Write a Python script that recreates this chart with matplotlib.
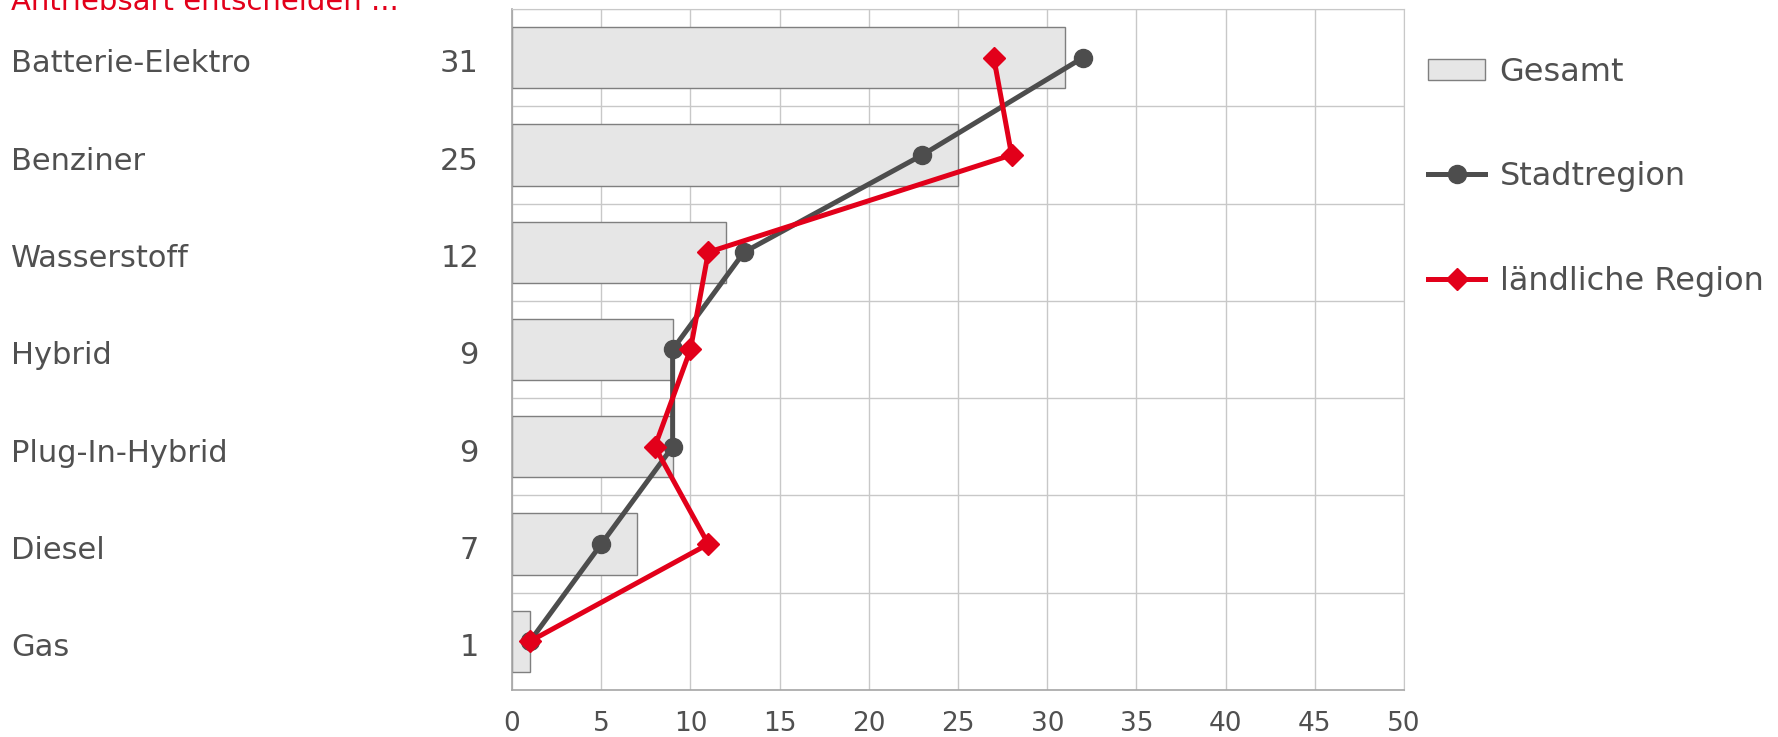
import matplotlib
matplotlib.use("Agg")
import matplotlib.pyplot as plt
import matplotlib.transforms as mtransforms
import numpy as np

# Antriebsarten (oben nach unten) und Anteile in Prozent
categories = ["Batterie-Elektro", "Benziner", "Wasserstoff", "Hybrid",
              "Plug-In-Hybrid", "Diesel", "Gas"]
gesamt = [31, 25, 12, 9, 9, 7, 1]
stadtregion = [32, 23, 13, 9, 9, 5, 1]
laendlich = [27, 28, 11, 10, 8, 11, 1]
xticks = [0, 5, 10, 15, 20, 25, 30, 35, 40, 45, 50]

TEXT = "#505050"
RED = "#E2001A"
DARK = "#4D4D4D"
GRID = "#C8C8C8"

plt.rcParams["font.family"] = ["DejaVu Sans"]

fig = plt.figure(figsize=(17.78, 7.37), dpi=100)
ax = fig.add_axes([0.288, 0.0638, 0.5017, 0.924])

y = np.arange(len(categories))

bars = ax.barh(y, gesamt, height=0.63, color="#E6E6E6", edgecolor="#7F7F7F",
               linewidth=1.0, label="Gesamt", zorder=2)
l_stadt, = ax.plot(stadtregion, y, color=DARK, lw=3.6, marker="o",
                   markersize=13, label="Stadtregion", zorder=3)
l_land, = ax.plot(laendlich, y, color=RED, lw=3.6, marker="D", markersize=11,
                  label="ländliche Region", zorder=4)

ax.set_xlim(0, 50)
ax.set_ylim(len(categories) - 0.5, -0.5)
ax.set_xticks(xticks)
ax.set_yticks([])
ax.set_yticks(np.arange(len(categories) + 1) - 0.5, minor=True)
ax.grid(True, axis="x", color=GRID, lw=1.0, zorder=0)
ax.grid(True, axis="y", which="minor", color=GRID, lw=1.0, zorder=0)
ax.tick_params(axis="x", length=0, pad=15, labelsize=19, labelcolor=TEXT)
ax.tick_params(axis="y", which="both", length=0)
for side in ["top", "right"]:
    ax.spines[side].set_color(GRID)
for side in ["left", "bottom"]:
    ax.spines[side].set_color("#A6A6A6")
    ax.spines[side].set_linewidth(1.2)

# Kategorienamen links, Gesamtwerte davor
trans = mtransforms.blended_transform_factory(fig.transFigure, ax.transData)
for i, (name, val) in enumerate(zip(categories, gesamt)):
    ax.annotate(name, (11 / 1778, i), xycoords=trans, xytext=(0, -4.5),
                textcoords="offset points", ha="left", va="center",
                fontsize=22, color=TEXT)
    ax.annotate(str(val), (479 / 1778, i), xycoords=trans, xytext=(0, -4.5),
                textcoords="offset points", ha="right", va="center",
                fontsize=22, color=TEXT)

fig.text(11 / 1778, 1 - 9.5 / 737, "Antriebsart entscheiden ...",
         ha="left", va="baseline", fontsize=21, color=RED)

fig.legend(handles=[bars, l_stadt, l_land],
           loc="upper left", bbox_to_anchor=(1399 / 1778, 1 - 28 / 737),
           frameon=False, fontsize=23, labelcolor=TEXT, labelspacing=2.3,
           handlelength=1.8, handleheight=0.65, handletextpad=0.45)

fig.savefig("out.png", dpi=100)
